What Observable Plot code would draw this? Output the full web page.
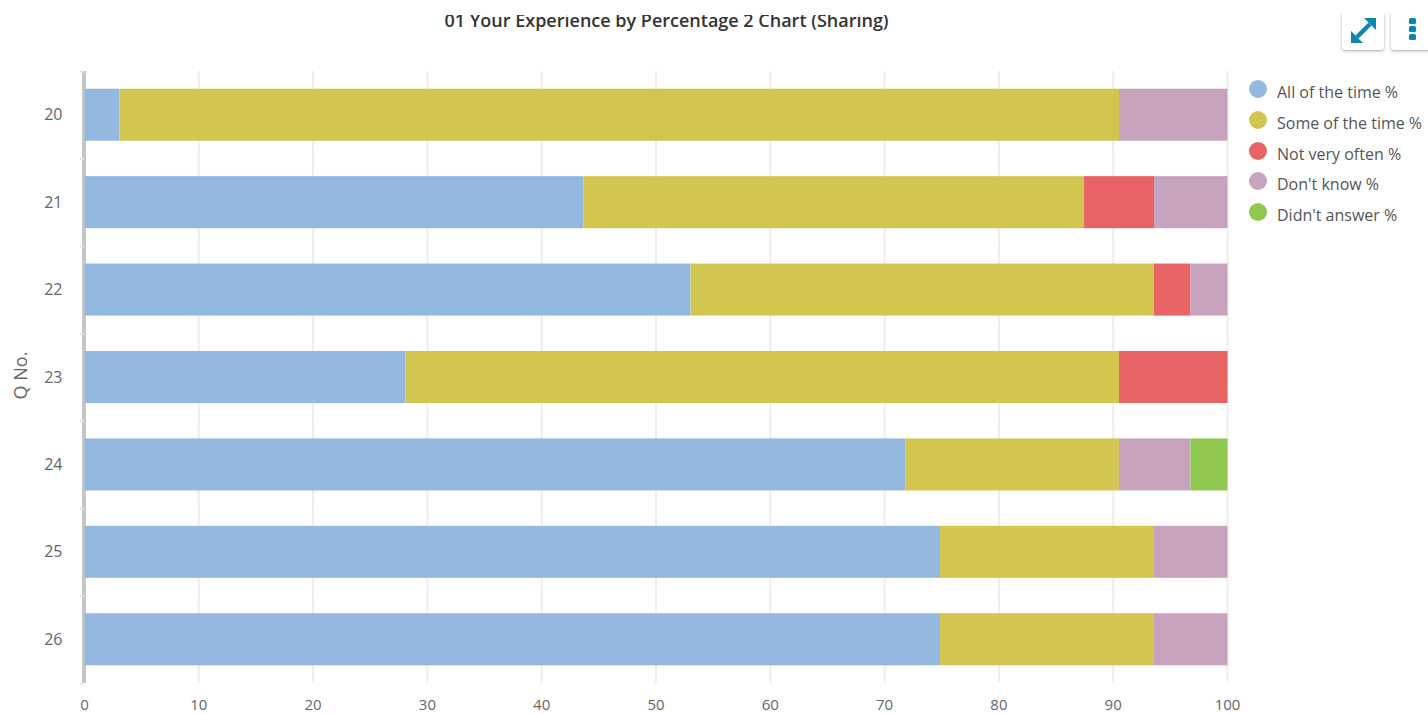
<!DOCTYPE html>
<html><head><meta charset="utf-8">
<script src="https://cdn.jsdelivr.net/npm/d3@7"></script>
<script src="https://cdn.jsdelivr.net/npm/@observablehq/plot@0.6"></script>
<style>
html,body{margin:0;padding:0;background:#fff;overflow:hidden}
#wrap{position:relative;width:1428px;height:714px;overflow:hidden;font-family:"Open Sans",sans-serif}
#chart{position:absolute;left:0;top:0}
#title{position:absolute;left:0;top:8px;width:1333px;text-align:center;font-size:18px;line-height:24px;font-weight:600;color:#333}
#cover{position:absolute;left:0;top:0;width:1428px;height:13px;background:#fff}
#cover2{position:absolute;left:0;top:0;width:1330px;height:14.5px;background:#fff}
.lg{position:absolute;left:1277px;font-size:16px;color:#555;line-height:18px;white-space:nowrap}
.sw{position:absolute;left:1249px;width:18px;height:18px;border-radius:50%}
.btn{position:absolute;top:13px;height:37px;background:#fff;border-radius:0 0 3px 3px;box-shadow:0 1px 3px rgba(0,0,0,.35)}
</style></head>
<body><div id="wrap">
<div id="chart"></div>
<div id="title"></div>
<div id="legend"></div>
<div class="btn" style="left:1342px;width:42px"><svg width="42" height="37" viewBox="0 0 42 37"><g fill="#0a86b0"><path d="M15 24L28 11" fill="none" stroke="#0a86b0" stroke-width="4.5"/><path d="M9 30V18L21 30Z"/><path d="M34 5V17L22 5Z"/></g></svg></div>
<div class="btn" style="left:1391px;width:40px"><svg width="40" height="37" viewBox="0 0 40 37"><g fill="#0a86b0"><rect x="18" y="5" width="7" height="6" rx="1.5"/><rect x="18" y="13" width="7" height="6" rx="1.5"/><rect x="18" y="21" width="7" height="6" rx="1.5"/></g></svg></div>
<div id="cover"></div><div id="cover2"></div>
</div>
<script>
const chartTitle = "01 Your Experience by Percentage 2 Chart (Sharing)";
const questions = ["20","21","22","23","24","25","26"];
const series = ["All of the time %","Some of the time %","Not very often %","Don't know %","Didn't answer %"];
const colors = ["#94b9e1","#d3c650","#e86464","#c7a3bd","#8fc74f"];
const allOfTheTime = [3.06,43.66,53.02,28.08,71.83,74.85,74.85];
const someOfTheTime = [87.45,43.79,40.55,62.43,18.67,18.72,18.72];
const notVeryOften = [0,6.12,3.19,9.49,0,0,0];
const dontKnow = [9.49,6.43,3.24,0,6.26,6.43,6.43];
const didntAnswer = [0,0,0,0,3.24,0,0];
const xTicks = [0,10,20,30,40,50,60,70,80,90,100];

const columns = [allOfTheTime,someOfTheTime,notVeryOften,dontKnow,didntAnswer];
const rows = series.flatMap((s,i)=>questions.map((q,j)=>({q,s,v:columns[i][j]})));

const step = 87.43;
const plot = Plot.plot({
  width:1428,height:714,
  marginLeft:84,marginRight:201,marginTop:71,marginBottom:31,
  style:{fontFamily:'"Open Sans",sans-serif',background:"#fff"},
  x:{domain:[0,100]},
  y:{domain:questions,paddingInner:0.405,paddingOuter:0.2025,align:0.5,round:false},
  color:{domain:series,range:colors},
  marks:[
    Plot.ruleX(xTicks.slice(1),{stroke:"#eeeeee",strokeWidth:2}),
    Plot.ruleX([0],{stroke:"#c6c6c6",strokeWidth:4,dx:-0.5}),
    Plot.barX(rows,{x:"v",y:"q",fill:"s",order:null,dx:0.5}),
    Plot.ruleY(questions,{y:d=>d,x1:-0.35,x2:0,dy:step/2,stroke:"#dfe7f2",strokeWidth:2}),
    Plot.ruleY(questions.slice(0,1),{y:d=>d,x1:-0.35,x2:0,dy:-step/2,stroke:"#dfe7f2",strokeWidth:2}),
    Plot.axisX({ticks:xTicks,tickSize:0,tickPadding:16,fontSize:15,color:"#666",label:null}),
    Plot.axisY({tickSize:0,tickPadding:22,fontSize:16,color:"#666",label:null}),
    Plot.text(["Q No."],{frameAnchor:"left",textAnchor:"middle",dx:-63,dy:-2,rotate:-90,fontSize:18,fill:"#666",text:d=>d})
  ]
});
document.getElementById("chart").append(plot);
document.getElementById("title").textContent = chartTitle;
const lg = document.getElementById("legend");
series.forEach((s,i)=>{
  const y = 80 + i*30.75;
  const a=document.createElement("div");a.className="sw";a.style.top=y+"px";a.style.background=colors[i];lg.append(a);
  const b=document.createElement("div");b.className="lg";b.style.top=(y+3)+"px";b.textContent=s;lg.append(b);
});
</script>
</body></html>
